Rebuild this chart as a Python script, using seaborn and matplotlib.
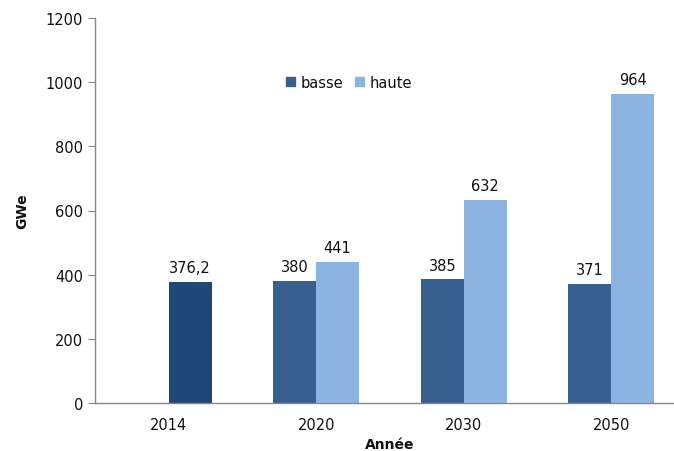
import pandas as pd
import matplotlib.pyplot as plt
import seaborn as sns

# Data
years = ['2014', '2020', '2030', '2050']
basse = [None, 380, 385, 371]
haute = [376.2, 441, 632, 964]
labels_basse = ['', '380', '385', '371']
labels_haute = ['376,2', '441', '632', '964']

rows = []
for y, b, h in zip(years, basse, haute):
    if b is not None:
        rows.append({'Année': y, 'scénario': 'basse', 'GWe': b})
    rows.append({'Année': y, 'scénario': 'haute', 'GWe': h})
df = pd.DataFrame(rows)

sns.set_style("white")
plt.rcParams['font.family'] = ['DejaVu Sans']
plt.rcParams['text.color'] = '#111111'
plt.rcParams['axes.labelcolor'] = '#111111'
plt.rcParams['xtick.labelcolor'] = '#111111'
plt.rcParams['ytick.labelcolor'] = '#111111'

fig = plt.figure(figsize=(6.74, 4.52), dpi=100)
ax = fig.add_axes([95 / 674, 48 / 452, 590 / 674, 385 / 452])

colors = {'basse': '#376090', 'haute': '#8DB3E2'}
sns.barplot(data=df, x='Année', y='GWe', hue='scénario', order=years,
            hue_order=['basse', 'haute'], palette=colors, width=0.58,
            saturation=1, linewidth=0, ax=ax, legend=False)

# the 2014 bar is drawn darker
ax.containers[1][0].set_facecolor('#1F4778')

ax.bar_label(ax.containers[0], labels=labels_basse[1:], padding=5, fontsize=10.5)
ax.bar_label(ax.containers[1], labels=labels_haute, padding=5, fontsize=10.5)

ax.set_ylim(0, 1200)
ax.set_yticks(range(0, 1201, 200))
ax.set_xlim(-0.5, 3.5)
ax.set_ylabel('GWe', fontsize=10, fontweight='bold', labelpad=12)
ax.set_xlabel('Année', fontsize=10, fontweight='bold', labelpad=4)

for s in ['top', 'right']:
    ax.spines[s].set_visible(False)
for s in ['left', 'bottom']:
    ax.spines[s].set_color('#888888')
    ax.spines[s].set_linewidth(1)

ax.set_xticks([-0.5, 0.5, 1.5, 2.5, 3.5], minor=True)
ax.tick_params(axis='x', which='major', length=0, labelsize=10.5, pad=10)
ax.tick_params(axis='x', which='minor', length=5, color='#888888', direction='out')
ax.tick_params(axis='y', length=5, color='#888888', direction='out', labelsize=10.5, left=True)

handles = [plt.Rectangle((0, 0), 1, 1, color=colors['basse']),
           plt.Rectangle((0, 0), 1, 1, color=colors['haute'])]
fig.legend(handles, ['basse', 'haute'], ncol=2, frameon=False,
           loc='center', bbox_to_anchor=(349 / 674, 1 - 83 / 452),
           handlelength=0.6, handleheight=0.6, handletextpad=0.4,
           columnspacing=0.8, fontsize=10.5)

plt.savefig('out.png', dpi=100)
